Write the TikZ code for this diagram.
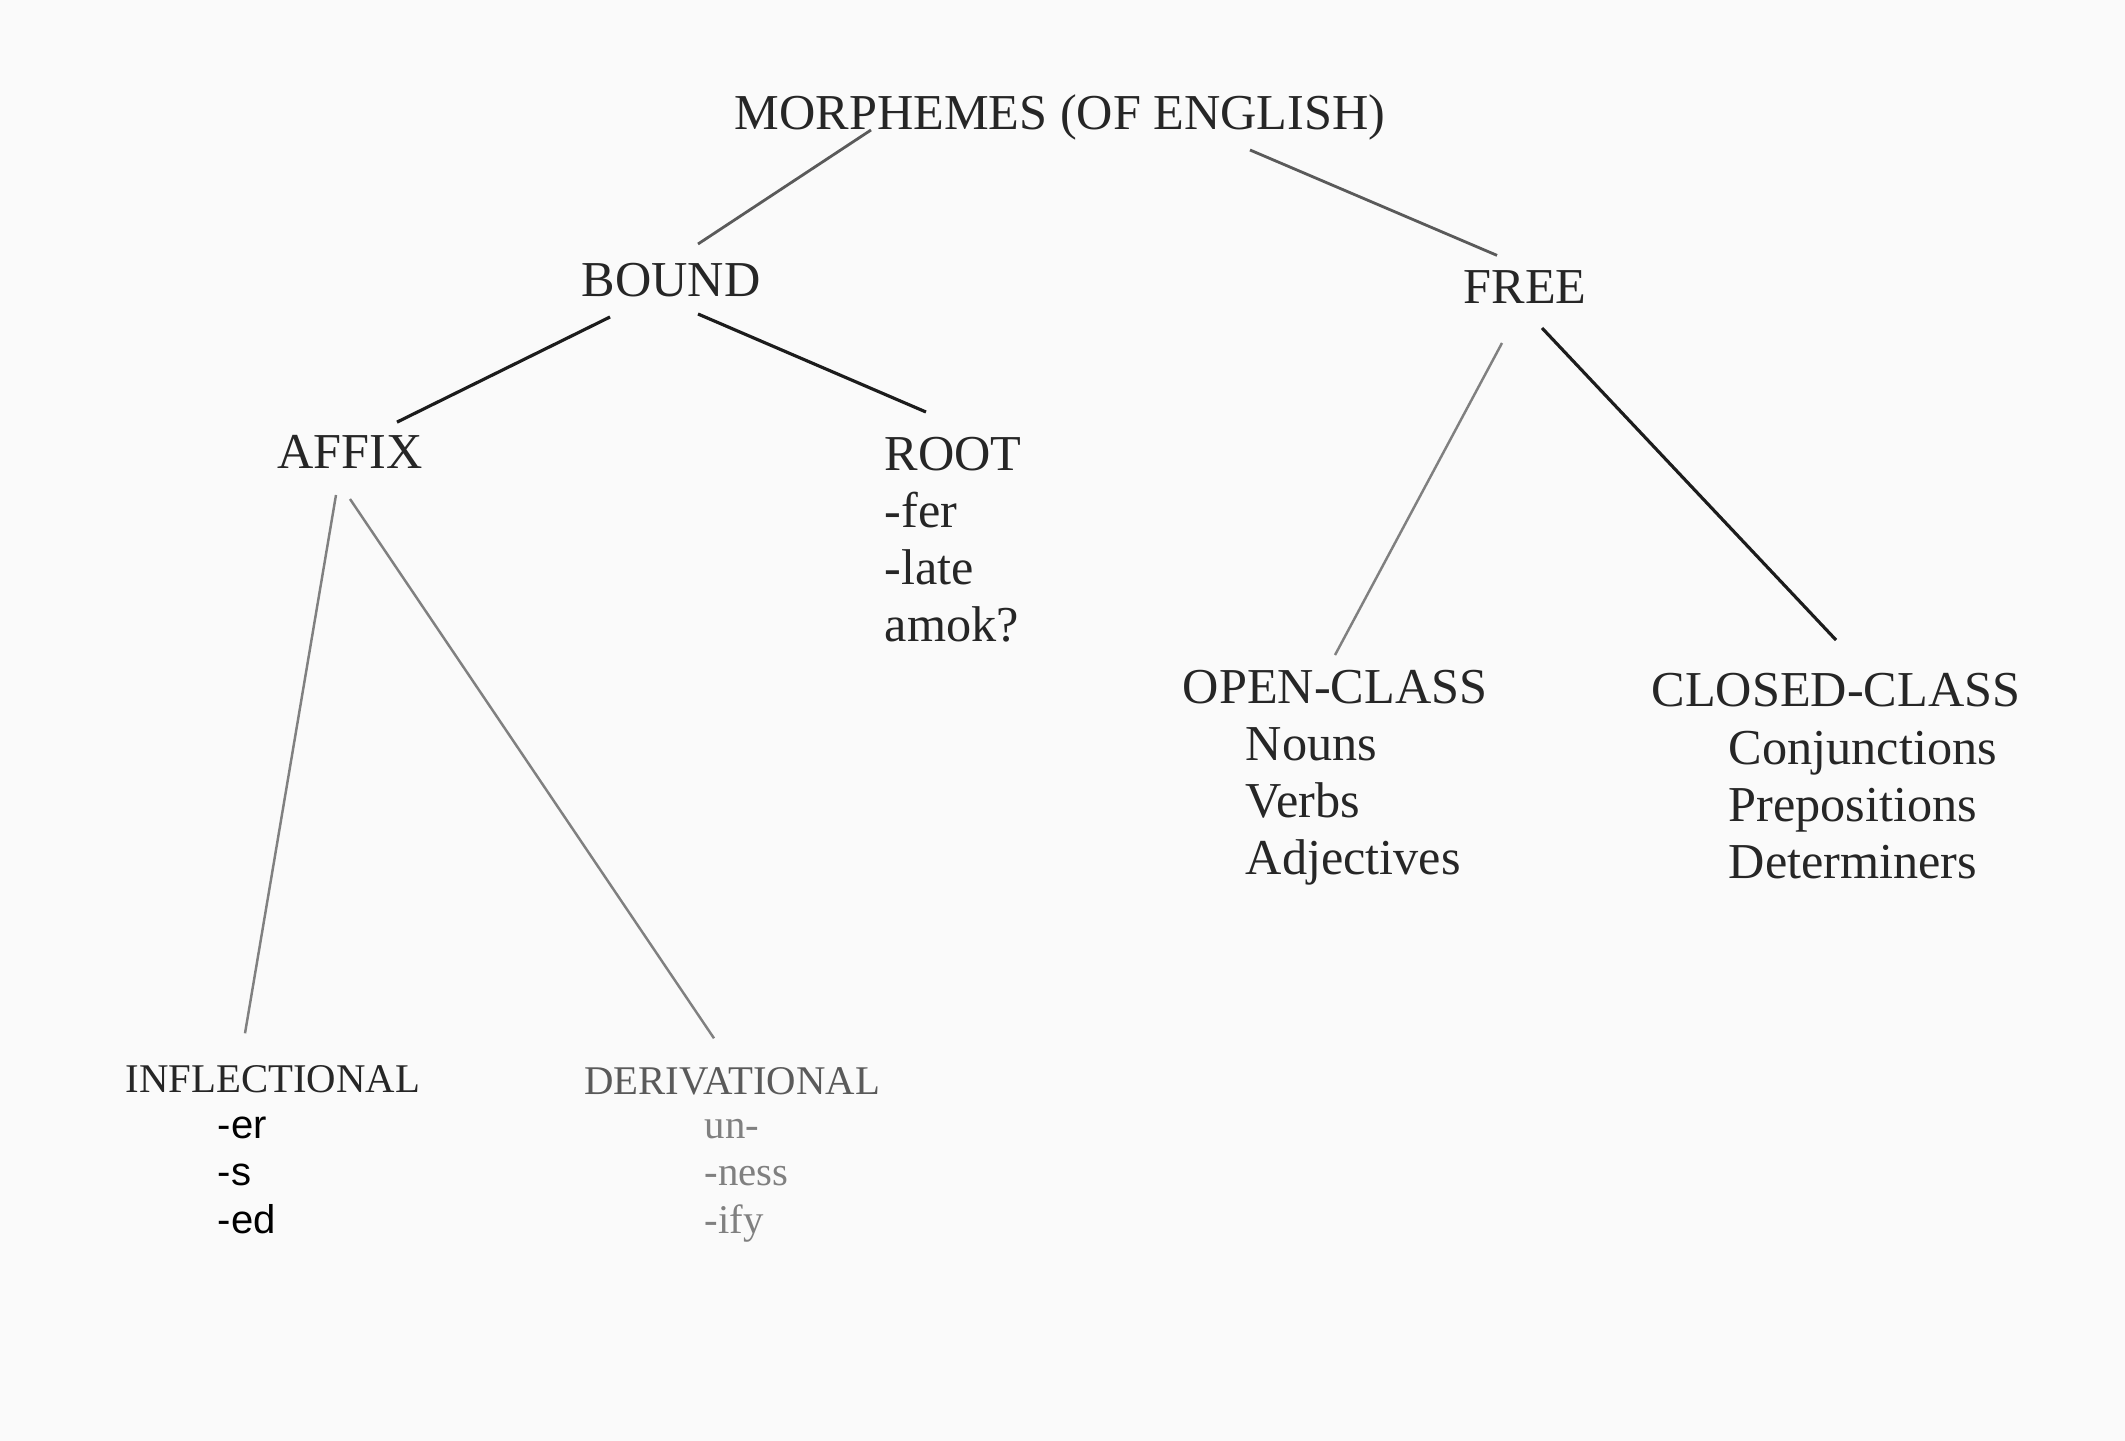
\documentclass[tikz,border=0pt]{standalone}
\usepackage{fontspec}
\setmainfont{Liberation Serif}
\newfontfamily\listsans{Liberation Sans}
\usetikzlibrary{positioning}
\definecolor{ink}{HTML}{262626}
\definecolor{inkdark}{HTML}{1C1C1C}
\definecolor{inkgray}{HTML}{5A5A5A}
\definecolor{inklight}{HTML}{808080}
\definecolor{paper}{HTML}{FAFAFA}

\begin{document}
\begin{tikzpicture}[
    cat/.style={inner sep=0pt, anchor=base, text=ink, font=\fontsize{14.3}{16.2}\selectfont},
    members/.style={inner sep=0pt, anchor=base west, align=left, text=ink, font=\fontsize{14.3}{16.2}\selectfont},
    smallcat/.style={inner sep=0pt, anchor=base, text=ink, font=\fontsize{11.6}{13.5}\selectfont},
    smallmembers/.style={inner sep=0pt, anchor=base west, align=left, text=ink, font=\fontsize{11.6}{13.5}\selectfont},
    branch/.style={line width=0.8pt, draw=inkgray},
    lightbranch/.style={line width=0.7pt, draw=inklight},
    darkbranch/.style={line width=0.9pt, draw=inkdark}
]
\fill[paper] (0,0) rectangle (21.25,-14.41);
\useasboundingbox (0,0) rectangle (21.25,-14.41);

% Top of the tree
\node[cat] (morph) at (10.60,-1.30) {MORPHEMES (OF ENGLISH)};

% Bound and free
\node[cat] (bound) at (6.71,-2.97) {BOUND};
\node[cat] (free) at (15.25,-3.04) {FREE};

% Under bound (lists sit on the baseline of their last line)
\node[cat] (affix) at (3.50,-4.68) {AFFIX};
\node[cat, anchor=base west] (root) at (8.84,-4.70) {ROOT};
\node[members] (rootlist) at (8.84,-6.41) {-fer\\-late\\amok?};

% Under free
\node[cat] (open) at (13.35,-7.03) {OPEN-CLASS};
\node[members] (openlist) at (12.45,-8.74) {Nouns\\Verbs\\Adjectives};
\node[cat] (closed) at (18.36,-7.06) {CLOSED-CLASS};
\node[members] (closedlist) at (17.28,-8.78) {Conjunctions\\Prepositions\\Determiners};

% Under affix
\node[smallcat] (infl) at (2.73,-10.92) {INFLECTIONAL};
\node[smallmembers, font=\listsans\fontsize{11.4}{13.5}\selectfont, text=black] (infllist) at (2.17,-12.33) {-er\\-s\\-ed};
\node[smallcat, text=inkgray] (deriv) at (7.32,-10.94) {DERIVATIONAL};
\node[smallmembers, text=inklight] (derivlist) at (7.04,-12.33) {un-\\-ness\\-ify};

% Branches
\draw[branch] ([xshift=-1.89cm]morph.base) -- ([xshift=0.27cm, yshift=0.19cm]bound.north);
\draw[branch] ([xshift=1.90cm, yshift=-0.20cm]morph.base) -- ([xshift=-0.28cm, yshift=0.15cm]free.north);
\draw[darkbranch] ([xshift=-0.61cm, yshift=-0.20cm]bound.base) -- ([xshift=0.47cm, yshift=0.12cm]affix.north);
\draw[darkbranch] ([xshift=0.27cm, yshift=-0.17cm]bound.base) -- ([xshift=0.42cm, yshift=0.24cm]root.north west);
\draw[lightbranch] ([xshift=-0.23cm, yshift=-0.39cm]free.base) -- ([yshift=0.14cm]open.north);
\draw[darkbranch] ([xshift=0.17cm, yshift=-0.24cm]free.base) -- ([yshift=0.32cm]closed.north);
\draw[lightbranch] ([xshift=-0.14cm, yshift=-0.27cm]affix.base) -- ([xshift=-0.28cm, yshift=0.31cm]infl.north);
\draw[lightbranch] ([yshift=-0.31cm]affix.base) -- ([xshift=-0.18cm, yshift=0.28cm]deriv.north);

\end{tikzpicture}
\end{document}
